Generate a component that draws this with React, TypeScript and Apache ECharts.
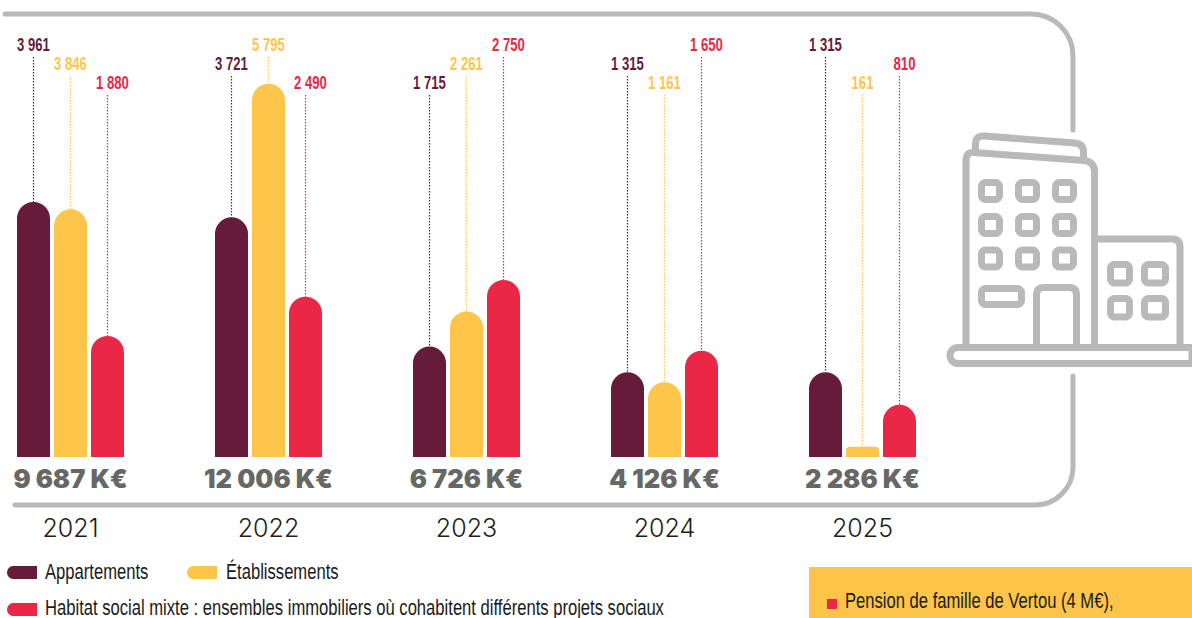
import React, { useEffect, useRef } from "react";
import * as echarts from "echarts";

const years = ["2021", "2022", "2023", "2024", "2025"];
const totals = ["9 687 K€", "12 006 K€", "6 726 K€", "4 126 K€", "2 286 K€"];
const appartements = [3961, 3721, 1715, 1315, 1315];
const etablissements = [3846, 5795, 2261, 1161, 161];
const habitat = [1880, 2490, 2750, 1650, 810];
const seriesNames = [
  "Appartements",
  "Établissements",
  "Habitat social mixte : ensembles immobiliers où cohabitent différents projets sociaux",
];
const boxText = "Pension de famille de Vertou (4 M€),";
const labelRows = [
  [0, 1, 2],
  [1, 0, 2],
  [2, 1, 0],
  [1, 2, 0],
  [0, 2, 1],
];

const MAROON = "#661c39";
const YELLOW = "#fdc64b";
const RED = "#ea2845";
const GRAY = "#b9b9b9";
const NARROW = '"Liberation Sans", sans-serif';
const colors = [MAROON, YELLOW, RED];
const allValues = [appartements, etablissements, habitat];
const fmt = (v: number) => {
  const s = String(v);
  return s.length > 3 ? s.slice(0, -3) + " " + s.slice(-3) : s;
};

const rr = (x: number, y: number, w: number, h: number, r: number) =>
  `M${x + r} ${y}H${x + w - r}A${r} ${r} 0 0 1 ${x + w} ${y + r}V${y + h - r}A${r} ${r} 0 0 1 ${x + w - r} ${y + h}H${x + r}A${r} ${r} 0 0 1 ${x} ${y + h - r}V${y + r}A${r} ${r} 0 0 1 ${x + r} ${y}Z`;

const framePath =
  "M5 14H1031A42 42 0 0 1 1073 56V130M1073 376V467A38 38 0 0 1 1035 505H15";
const iconWindows: number[][] = [];
[182.5, 216.5, 250].forEach((y) =>
  [981.5, 1018.5, 1055.5].forEach((x) => iconWindows.push([x, y, 18, 17]))
);
[264.5, 298.5].forEach((y) => {
  iconWindows.push([1110.5, y, 19, 18.5]);
  iconWindows.push([1144.5, y, 21, 18.5]);
});
const iconPath =
  "M966 347V161Q966 151 975 152.5L1084 160.5Q1094.5 161.5 1094.5 172V347" +
  "M975.5 150V144Q975.5 135.5 984 136L1075 143Q1083.5 144 1083.5 152V158" +
  "M1094.5 239H1172Q1180 239 1180 247V347" +
  "M1036.5 347V295Q1036.5 287.5 1044 287.5H1069Q1076.5 287.5 1076.5 295V347" +
  "M958 347.5H1192V363.5H958A8 8 0 0 1 958 347.5Z" +
  rr(981.5, 288.5, 40, 16, 4) +
  iconWindows.map((w) => rr(w[0], w[1], w[2], w[3], 4)).join("");

const pillPath = "M6 0H30V13H6A6 6.5 0 0 1 6 0Z";

export default function App() {
  const ref = useRef<HTMLDivElement>(null);
  useEffect(() => {
    if (!ref.current) return;
    const anyG = echarts.graphic as any;
    anyG.registerShape("frameShape", anyG.extendPath(framePath, {}));
    anyG.registerShape("iconShape", anyG.extendPath(iconPath, {}));
    anyG.registerShape("pillShape", anyG.extendPath(pillPath, {}));
    const chart = echarts.init(ref.current, undefined, { renderer: "svg" });

    const leaderData: number[][] = [];
    allValues.forEach((vals, s) =>
      vals.forEach((v, c) => leaderData.push([c, v, s, labelRows[c][s]]))
    );
    const condensed = (text: string, x: number, y: number) => ({
      type: "text",
      x,
      y,
      scaleX: 0.755,
      style: {
        text,
        fill: "#1a1a1a",
        fontFamily: NARROW,
        fontSize: 22,
        verticalAlign: "middle",
      },
    });
    const pill = (x: number, y: number, fill: string) => ({
      type: "pillShape",
      x,
      y,
      silent: true,
      style: { fill },
    });

    chart.setOption({
      animation: false,
      backgroundColor: "#ffffff",
      grid: {
        left: -28.5,
        width: 990,
        top: 70.6,
        height: 386.4,
        outerBoundsMode: "none",
        containLabel: false,
      },
      xAxis: {
        type: "category",
        data: years,
        axisLine: { show: false },
        axisTick: { show: false },
        axisLabel: {
          margin: 0,
          interval: 0,
          hideOverlap: false,
          formatter: (y: string, i: number) => `{t|${totals[i]}}\n{y|${y}}`,
          rich: {
            t: {
              fontFamily: "Inter",
              fontWeight: 900,
              fontSize: 25.5,
              color: "#676766",
              lineHeight: 42,
              height: 42,
            },
            y: {
              fontFamily: "Inter",
              fontWeight: 300,
              fontSize: 25,
              color: "#1d1d1b",
              lineHeight: 58,
              height: 58,
            },
          },
        },
      },
      yAxis: { type: "value", min: 0, max: 6000, show: false },
      series: [
        ...allValues.map((vals, s) => ({
          type: "bar",
          name: seriesNames[s],
          barWidth: 33,
          barGap: "12.12%",
          itemStyle: { color: colors[s], borderRadius: [16.5, 16.5, 0, 0] },
          data: vals.map((v) =>
            v < 300 ? { value: v, itemStyle: { borderRadius: [4, 4, 0, 0] } } : v
          ),
        })),
        {
          type: "custom",
          name: "leaders",
          silent: true,
          z: 5,
          clip: false,
          data: leaderData,
          encode: { x: 0, y: 1 },
          renderItem: (_: any, api: any) => {
            const c = api.value(0);
            const v = api.value(1);
            const s = api.value(2);
            const row = api.value(3);
            const pt = api.coord([c, v]);
            const x = pt[0] + (s - 1) * 37;
            const topY = 57 + row * 19;
            return {
              type: "group",
              children: [
                {
                  type: "line",
                  shape: { x1: x, y1: topY, x2: x, y2: pt[1] },
                  style: {
                    stroke: colors[s],
                    lineWidth: 1.2,
                    lineDash: [1.5, 1.5],
                  },
                },
                {
                  type: "text",
                  x: x + (s === 2 ? 5 : 0),
                  y: topY - 13,
                  scaleX: 0.69,
                  style: {
                    text: fmt(v),
                    fill: colors[s],
                    fontFamily: NARROW,
                    fontWeight: 700,
                    fontSize: 19,
                    align: "center",
                    verticalAlign: "middle",
                  },
                },
              ],
            };
          },
        },
      ],
      graphic: [
        {
          type: "frameShape",
          silent: true,
          style: { fill: "none", stroke: GRAY, lineWidth: 5, lineCap: "round" },
        },
        {
          type: "iconShape",
          silent: true,
          style: { fill: "none", stroke: GRAY, lineWidth: 7, lineJoin: "round" },
        },
        pill(7, 566, MAROON),
        condensed(seriesNames[0], 45, 571),
        pill(187, 566, YELLOW),
        condensed(seriesNames[1], 226, 571),
        pill(7, 603, RED),
        condensed(seriesNames[2], 45, 607),
        {
          type: "rect",
          shape: { x: 809, y: 567, width: 383, height: 51 },
          style: { fill: "#fcc54a" },
        },
        {
          type: "rect",
          shape: { x: 827, y: 599, width: 10, height: 10 },
          style: { fill: RED },
        },
        condensed(boxText, 845, 600),
      ],
    });
    return () => chart.dispose();
  }, []);
  return (
    <div
      ref={ref}
      style={{ position: "fixed", left: 0, top: 0, width: 1192, height: 618 }}
    />
  );
}
